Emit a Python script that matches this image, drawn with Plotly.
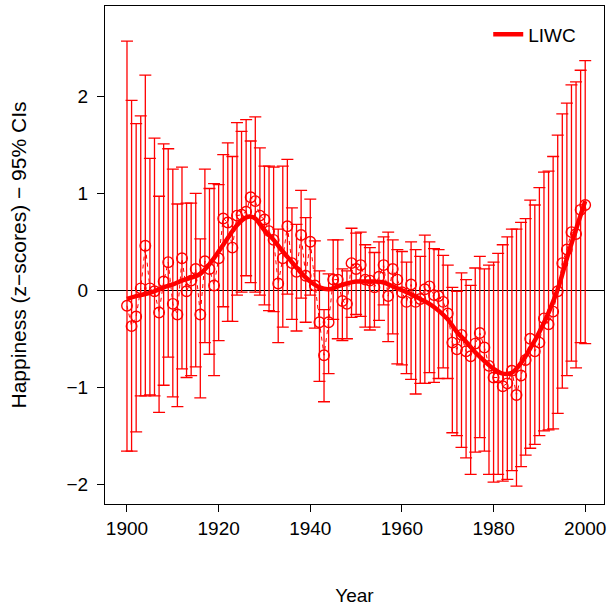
import plotly.graph_objects as go

years = list(range(1900, 2001))

happiness = [
    -0.16, -0.37, -0.27, 0.02, 0.46, 0.02, -0.01, -0.23, 0.09, 0.29,
    -0.14, -0.25, 0.33, -0.01, 0.10, 0.22, -0.25, 0.30, 0.22, 0.05,
    0.33, 0.74, 0.70, 0.44, 0.77, 0.78, 0.81, 0.96, 0.92, 0.77,
    0.73, 0.61, 0.52, 0.07, 0.33, 0.66, 0.28, 0.19, 0.57, 0.15,
    0.50, 0.05, -0.33, -0.67, -0.33, 0.11, 0.11, -0.11, -0.14, 0.28,
    0.22, 0.26, 0.11, 0.10, 0.03, 0.14, 0.26, -0.06, 0.22, 0.11,
    -0.02, -0.12, 0.06, -0.12, -0.09, 0.01, 0.04, -0.05, -0.06, -0.12,
    -0.24, -0.54, -0.61, -0.46, -0.63, -0.68, -0.55, -0.44, -0.59, -0.78,
    -0.90, -0.90, -0.99, -0.96, -0.83, -1.08, -0.88, -0.72, -0.50, -0.63,
    -0.54, -0.29, -0.35, -0.22, -0.01, 0.28, 0.42, 0.60, 0.58, 0.83,
    0.88,
]

ci_upper = [
    2.57, 1.96, 1.72, 1.80, 2.22, 1.36, 1.57, 0.97, 1.51, 1.46,
    1.25, 0.89, 1.27, 0.90, 0.90, 1.00, 0.53, 1.25, 1.05, 1.10,
    1.09, 1.40, 1.52, 1.38, 1.73, 1.64, 1.76, 1.54, 1.79, 1.47,
    1.28, 1.28, 1.27, 0.63, 1.28, 1.35, 0.85, 0.68, 1.03, 0.75,
    0.94, 0.51, 0.20, -0.20, 0.17, 0.52, 0.52, 0.22, 0.20, 0.64,
    0.59, 0.60, 0.47, 0.44, 0.39, 0.50, 0.55, 0.60, 0.52, 0.42,
    0.40, 0.29, 0.50, 0.42, 0.35, 0.57, 0.50, 0.43, 0.42, 0.36,
    0.26, 0.03, -0.01, 0.18, 0.11, 0.05, 0.23, 0.35, 0.22, 0.26,
    0.29, 0.38, 0.47, 0.55, 0.63, 0.63, 0.70, 0.74, 0.93, 0.88,
    1.06, 1.22, 1.23, 1.38, 1.60, 1.82, 1.93, 2.12, 2.15, 2.27,
    2.37,
]

ci_lower = [
    -1.66, -1.66, -1.46, -1.09, -1.09, -1.08, -1.09, -1.26, -0.98, -0.69,
    -1.10, -1.20, -0.81, -0.90, -0.88, -0.79, -1.11, -0.54, -0.66, -0.88,
    -0.52, -0.17, -0.32, -0.32, -0.05, -0.02, 0.15, 0.08, -0.02, -0.05,
    -0.15, -0.21, -0.22, -0.54, -0.38, -0.04, -0.30, -0.42, -0.08, -0.33,
    -0.05, -0.39, -0.94, -1.15, -0.86, -0.30, -0.50, -0.52, -0.50, -0.28,
    -0.25, -0.27, -0.38, -0.41, -0.38, -0.31, -0.15, -0.53, -0.45, -0.76,
    -0.77, -0.86, -0.92, -1.07, -0.96, -0.96, -0.85, -0.95, -0.91, -0.80,
    -0.91, -1.47, -1.50, -1.62, -1.73, -1.90, -1.67, -1.52, -1.66, -1.90,
    -1.98, -1.90, -1.97, -1.95, -1.86, -2.02, -1.82, -1.70, -1.63, -1.59,
    -1.50, -1.45, -1.44, -1.43, -1.27, -1.01, -0.88, -0.73, -0.80, -0.54,
    -0.55,
]

smooth_years = [1900, 1902, 1904, 1906, 1908, 1910, 1912, 1914, 1916, 1918,
                1920, 1922, 1924, 1926, 1927, 1928, 1930, 1932, 1934, 1936,
                1938, 1940, 1942, 1944, 1946, 1948, 1950, 1952, 1954, 1956,
                1958, 1960, 1962, 1964, 1966, 1968, 1970, 1972, 1974, 1976,
                1978, 1980, 1982, 1984, 1986, 1988, 1990, 1992, 1994, 1996,
                1998, 2000]
smooth_vals = [-0.09, -0.06, -0.04, -0.01, 0.03, 0.06, 0.10, 0.13, 0.17, 0.27,
               0.40, 0.54, 0.67, 0.75, 0.76, 0.74, 0.62, 0.52, 0.40, 0.29,
               0.18, 0.09, 0.03, 0.01, 0.04, 0.07, 0.09, 0.09, 0.09, 0.08,
               0.04, 0.00, -0.04, -0.09, -0.14, -0.21, -0.30, -0.43, -0.53, -0.64,
               -0.73, -0.81, -0.86, -0.85, -0.75, -0.60, -0.43, -0.23, 0.01, 0.33,
               0.63, 0.92]

x_ticks = [1900, 1920, 1940, 1960, 1980, 2000]
y_ticks = [-2, -1, 0, 1, 2]

RED = "#FF0000"
FONT = "Liberation Sans, Arial, Helvetica, sans-serif"
FS = 19

err_plus = [u - v for u, v in zip(ci_upper, happiness)]
err_minus = [v - l for v, l in zip(happiness, ci_lower)]

fig = go.Figure()

fig.add_trace(go.Scatter(
    x=years, y=happiness, mode="lines+markers",
    line=dict(color=RED, width=1, dash="4px,4px"),
    marker=dict(symbol="circle-open", size=10.5, color=RED, line=dict(width=1.4, color=RED)),
    error_y=dict(type="data", symmetric=False, array=err_plus, arrayminus=err_minus,
                 color=RED, thickness=1.3, width=6),
    showlegend=False, hoverinfo="skip",
))

fig.add_trace(go.Scatter(
    x=smooth_years, y=smooth_vals, mode="lines", name="LIWC",
    line=dict(color=RED, width=4.5, shape="spline", smoothing=1.0),
))

fig.update_layout(
    width=611, height=607,
    margin=dict(l=105, r=5, t=5, b=101),
    plot_bgcolor="white", paper_bgcolor="white",
    font=dict(family=FONT, size=FS, color="black"),
    showlegend=True,
    legend=dict(x=0.768, y=0.981, xanchor="left", yanchor="top",
                bgcolor="rgba(0,0,0,0)", font=dict(size=FS)),
)

fig.update_xaxes(
    range=[1895.2, 2004.1], tickvals=x_ticks, ticks="outside", ticklen=7,
    tickwidth=1, tickcolor="black", showgrid=False, zeroline=False,
    showline=True, linecolor="black", linewidth=1, mirror=True,
    title=dict(text="Year", standoff=50, font=dict(size=FS)),
    tickfont=dict(size=FS),
)
fig.update_yaxes(
    range=[-2.205, 2.933], tickvals=y_ticks, ticks="outside", ticklen=7,
    tickwidth=1, tickcolor="black", showgrid=False,
    zeroline=True, zerolinecolor="black", zerolinewidth=1,
    showline=True, linecolor="black", linewidth=1, mirror=True,
    ticklabelstandoff=5,
    title=dict(text="Happiness (z\u2212scores) \u2212 95% CIs", standoff=34, font=dict(size=21)),
    tickfont=dict(size=FS),
)

fig.write_html("out.html", post_script="document.body.style.margin='0';",
               config={"displayModeBar": False})
